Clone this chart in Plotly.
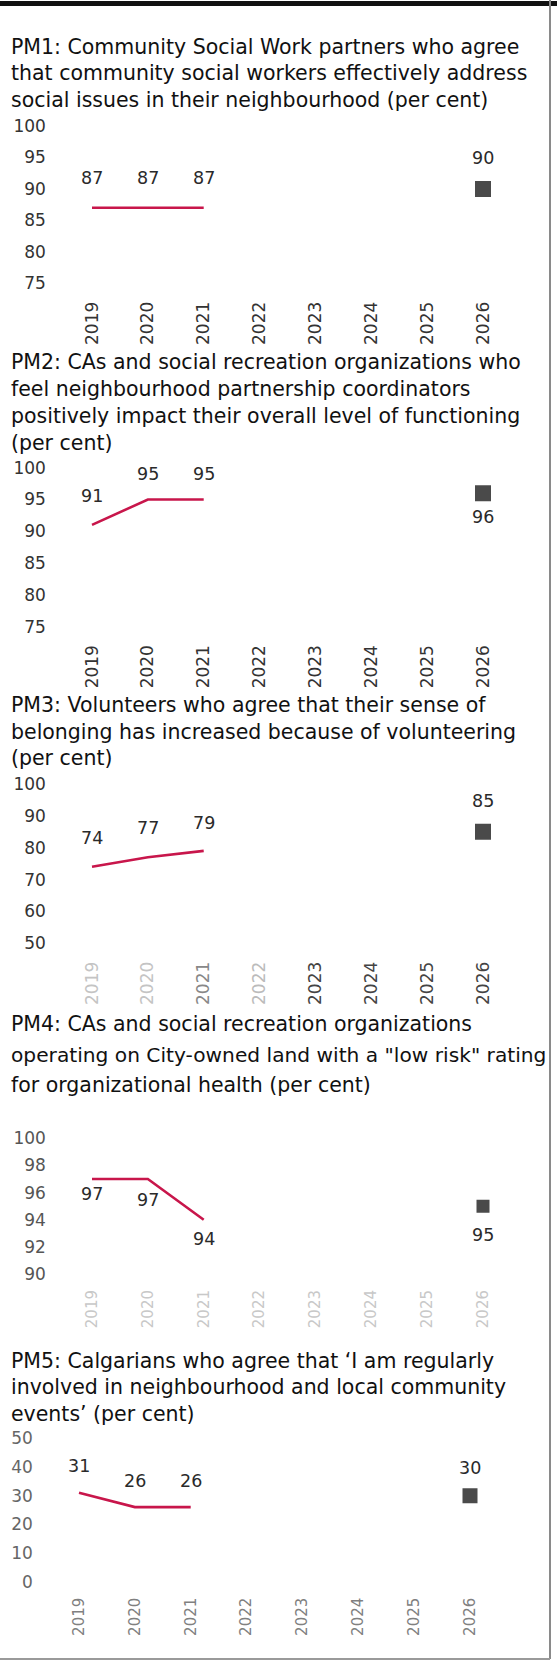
import plotly.graph_objects as go

W, H = 557, 1665

# ---------------- data ----------------
years = [2019, 2020, 2021, 2022, 2023, 2024, 2025, 2026]
actual_years = [2019, 2020, 2021]
target_years = [2026]

pm1_title = ["PM1: Community Social Work partners who agree",
             "that community social workers effectively address",
             "social issues in their neighbourhood (per cent)"]
pm1_actual = [87, 87, 87]
pm1_target = [90]
pm1_yticks = [75, 80, 85, 90, 95, 100]

pm2_title = ["PM2: CAs and social recreation organizations who",
             "feel neighbourhood partnership coordinators",
             "positively impact their overall level of functioning",
             "(per cent)"]
pm2_actual = [91, 95, 95]
pm2_target = [96]
pm2_yticks = [75, 80, 85, 90, 95, 100]

pm3_title = ["PM3: Volunteers who agree that their sense of",
             "belonging has increased because of volunteering",
             "(per cent)"]
pm3_actual = [74, 77, 79]
pm3_target = [85]
pm3_yticks = [50, 60, 70, 80, 90, 100]

pm4_title = ["PM4: CAs and social recreation organizations",
             "operating on City-owned land with a \"low risk\" rating",
             "for organizational health (per cent)"]
pm4_actual = [97, 97, 94]
pm4_target = [95]
pm4_yticks = [90, 92, 94, 96, 98, 100]

pm5_title = ["PM5: Calgarians who agree that \u2018I am regularly",
             "involved in neighbourhood and local community",
             "events\u2019 (per cent)"]
pm5_actual = [31, 26, 26]
pm5_target = [30]
pm5_yticks = [0, 10, 20, 30, 40, 50]

panels_data = [
    (pm1_title, pm1_actual, pm1_target, pm1_yticks),
    (pm2_title, pm2_actual, pm2_target, pm2_yticks),
    (pm3_title, pm3_actual, pm3_target, pm3_yticks),
    (pm4_title, pm4_actual, pm4_target, pm4_yticks),
    (pm5_title, pm5_actual, pm5_target, pm5_yticks),
]

# ---------------- layout / style (pixels) ----------------
FONT = "DejaVu Sans"
LINE_COLOR = "#c8164b"
MARKER_COLOR = "#4a4a4a"

styles = [
    dict(x19=92, x26=483, ytop=126, ybot=283.3, title_y=[46.5, 73.3, 100], title_fs=[20.5] * 3,
         lab_shift=[30, 30, 30], tgt_shift=31, ytick_col="#333", xtick_cols=["#333"] * 8,
         msize=16, xfs=17, xstand=14),
    dict(x19=92, x26=483, ytop=467.7, ybot=626.7, title_y=[362, 388.5, 415.5, 443], title_fs=[20.5] * 4,
         lab_shift=[29, 26, 26], tgt_shift=-24, ytick_col="#333", xtick_cols=["#333"] * 8,
         msize=16, xfs=17, xstand=14),
    dict(x19=92, x26=483, ytop=784, ybot=943.3, title_y=[704.7, 731.7, 758.3], title_fs=[20.5] * 3,
         lab_shift=[29, 29, 28], tgt_shift=31, ytick_col="#333",
         xtick_cols=["#c4c4c4", "#c4c4c4", "#888", "#bbb", "#444", "#444", "#444", "#444"],
         msize=16, xfs=17, xstand=14),
    dict(x19=92, x26=483, ytop=1138.3, ybot=1274, title_y=[1024, 1055, 1085], title_fs=[20.5, 20.2, 20.5],
         lab_shift=[-15, -21, -19], tgt_shift=-29, ytick_col="#555", xtick_cols=["#c8c8c8"] * 8,
         msize=13, xfs=15, xstand=12),
    dict(x19=79, x26=470, ytop=1438.3, ybot=1581.7, title_y=[1360.7, 1387.3, 1413.7], title_fs=[20.5] * 3,
         lab_shift=[27, 26.5, 26.5], tgt_shift=28, ytick_col="#666", xtick_cols=["#808080"] * 8,
         msize=15, xfs=15, xstand=12),
]

fig = go.Figure()
annotations = []

for i, ((title, actual, target, yticks), st) in enumerate(zip(panels_data, styles)):
    n = i + 1
    xa = "x" if n == 1 else f"x{n}"
    ya = "y" if n == 1 else f"y{n}"
    step = (st["x26"] - st["x19"]) / 7.0
    pad = 0.7
    x0 = st["x19"] - pad * step
    x1 = st["x26"] + pad * step

    fig.add_trace(go.Scatter(x=actual_years, y=actual, mode="lines",
                             line=dict(color=LINE_COLOR, width=2.6),
                             xaxis=xa, yaxis=ya, showlegend=False, hoverinfo="skip"))
    fig.add_trace(go.Scatter(x=target_years, y=target, mode="markers",
                             marker=dict(symbol="square", size=st["msize"], color=MARKER_COLOR),
                             xaxis=xa, yaxis=ya, showlegend=False, hoverinfo="skip"))

    ticktext = [f"<span style='color:{c}'>{y}</span>" for y, c in zip(years, st["xtick_cols"])]
    fig.layout[("xaxis" if n == 1 else f"xaxis{n}")] = dict(
        domain=[x0 / W, x1 / W], range=[years[0] - pad, years[-1] + pad],
        anchor=ya, tickvals=years, ticktext=ticktext, tickangle=-90,
        tickfont=dict(family=FONT, size=st["xfs"], color="#333"),
        showgrid=False, zeroline=False, showline=False, ticks="", automargin=False,
        ticklabelstandoff=st["xstand"], fixedrange=True)
    fig.layout[("yaxis" if n == 1 else f"yaxis{n}")] = dict(
        domain=[1 - st["ybot"] / H, 1 - st["ytop"] / H],
        range=[yticks[0], yticks[-1]], anchor=xa, tickvals=yticks,
        tickfont=dict(family=FONT, size=17, color=st["ytick_col"]),
        showgrid=False, zeroline=False, showline=False, ticks="", automargin=False,
        ticklabelstandoff=6, fixedrange=True)

    for line, ty, fs in zip(title, st["title_y"], st["title_fs"]):
        annotations.append(dict(xref="paper", yref="paper", x=9 / W, y=1 - ty / H,
                                xanchor="left", yanchor="middle", text=line, showarrow=False,
                                font=dict(family=FONT, size=fs, color="#111")))
    for xv, yv, sh in zip(actual_years, actual, st["lab_shift"]):
        annotations.append(dict(xref=xa, yref=ya, x=xv, y=yv, text=str(yv), showarrow=False,
                                xanchor="center", yanchor="middle", yshift=sh,
                                font=dict(family=FONT, size=17.5, color="#2a2a2a")))
    for xv, yv in zip(target_years, target):
        annotations.append(dict(xref=xa, yref=ya, x=xv, y=yv, text=str(yv), showarrow=False,
                                xanchor="center", yanchor="middle", yshift=st["tgt_shift"],
                                font=dict(family=FONT, size=17.5, color="#2a2a2a")))

shapes = [
    dict(type="rect", xref="paper", yref="paper", x0=0, x1=1, y0=1 - 6 / H, y1=1 - 1 / H,
         fillcolor="#111", line=dict(width=0)),
    dict(type="line", xref="paper", yref="paper", x0=550 / W, x1=550 / W, y0=1 - 1659 / H, y1=1,
         line=dict(color="#8a8a8a", width=2)),
    dict(type="line", xref="paper", yref="paper", x0=0, x1=550 / W, y0=1 - 1659 / H, y1=1 - 1659 / H,
         line=dict(color="#9a9a9a", width=2)),
]

fig.update_layout(width=W, height=H,
                  margin=dict(l=0, r=0, t=0, b=0, pad=0, autoexpand=False),
                  paper_bgcolor="white", plot_bgcolor="white",
                  annotations=annotations, shapes=shapes, showlegend=False,
                  font=dict(family=FONT))

fig.write_html("out.html",
               config={"displayModeBar": False, "staticPlot": True},
               post_script=("document.documentElement.style.margin='0';"
                            "document.body.style.margin='0';document.body.style.padding='0';"
                            "document.body.style.overflow='hidden';"
                            "var gd=document.getElementById('{plot_id}');"
                            "gd.style.position='absolute';gd.style.top='0px';gd.style.left='0px';"))
